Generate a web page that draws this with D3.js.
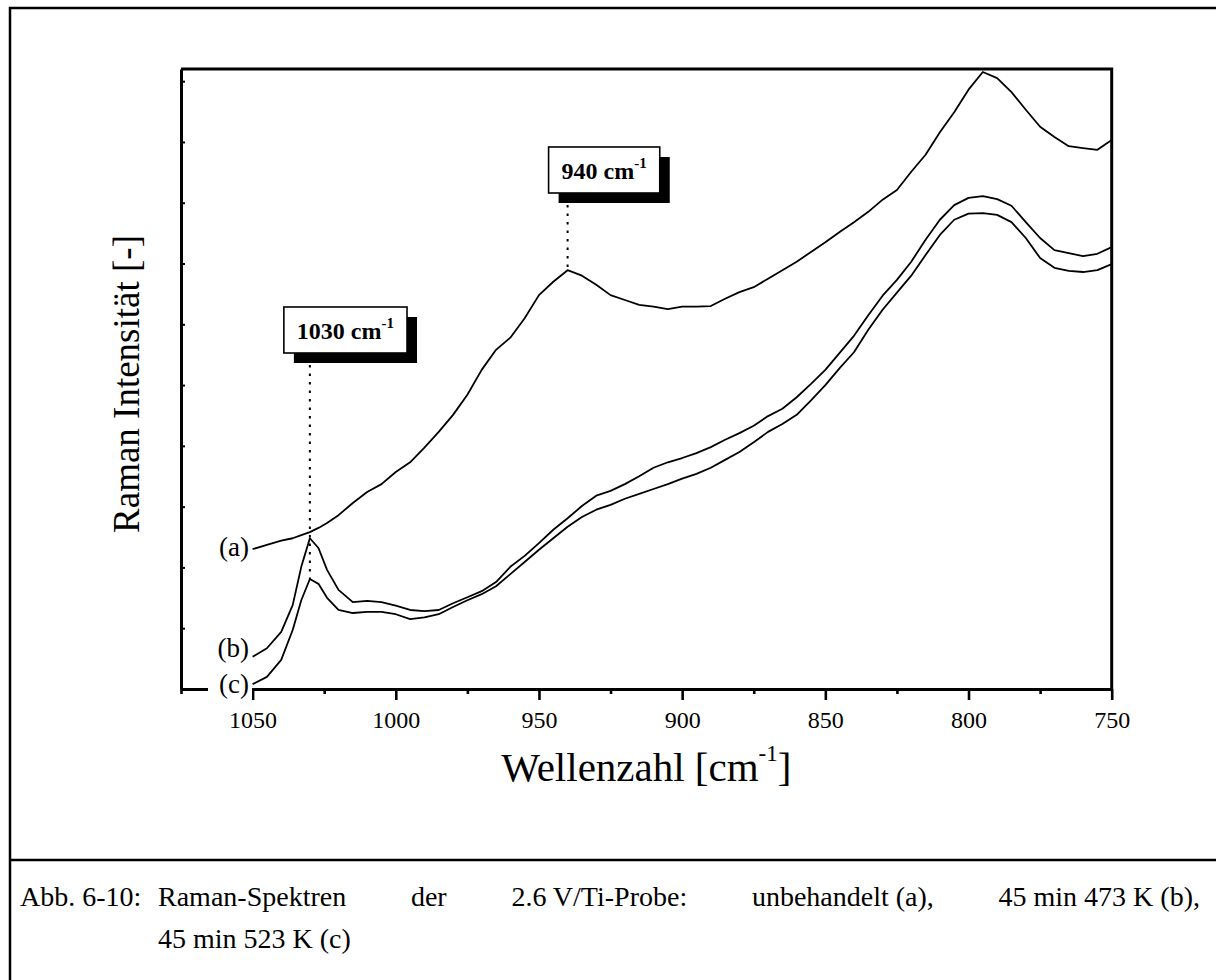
<!DOCTYPE html>
<html>
<head>
<meta charset="utf-8">
<script src="https://cdn.jsdelivr.net/npm/d3@7"></script>
<style>
  html, body { margin: 0; padding: 0; background: #fff; }
  svg { display: block; }
  text { font-family: "Liberation Serif", "Times New Roman", serif; fill: #000; }
</style>
</head>
<body>
<svg id="fig" width="1216" height="980"></svg>
<script>
// Raman shift grid (cm^-1), shared by all three spectra
const wavenumbers = [1050, 1045, 1040, 1036, 1033, 1030, 1027, 1024, 1020, 1015, 1010, 1005,
  1000, 995, 990, 985, 980, 975, 970, 965, 960, 955, 950, 945, 940, 935, 930, 925, 920, 915,
  910, 905, 900, 895, 890, 885, 880, 875, 870, 865, 860, 855, 850, 845, 840, 835, 830, 825,
  820, 815, 810, 805, 800, 795, 790, 785, 780, 775, 770, 765, 760, 755, 750];

// (a) untreated
const seriesA = [2.30, 2.37, 2.44, 2.48, 2.53, 2.58, 2.65, 2.73, 2.86, 3.06, 3.24, 3.37,
  3.57, 3.73, 3.97, 4.23, 4.51, 4.84, 5.25, 5.58, 5.78, 6.10, 6.48, 6.70, 6.89, 6.80, 6.65, 6.48, 6.40, 6.32,
  6.29, 6.25, 6.29, 6.29, 6.30, 6.42, 6.53, 6.61, 6.75, 6.89, 7.03, 7.19, 7.35, 7.52, 7.68, 7.85, 8.05, 8.21,
  8.51, 8.79, 9.16, 9.49, 9.86, 10.15, 10.05, 9.82, 9.53, 9.25, 9.08, 8.93, 8.90, 8.87, 9.03];

// (b) 45 min at 473 K
const seriesB = [0.53, 0.67, 0.94, 1.38, 2.01, 2.48, 2.32, 1.96, 1.63, 1.43, 1.45, 1.43,
  1.37, 1.30, 1.28, 1.30, 1.41, 1.51, 1.61, 1.76, 2.01, 2.19, 2.40, 2.62, 2.81, 3.01, 3.18, 3.26, 3.37, 3.50,
  3.64, 3.73, 3.80, 3.88, 3.98, 4.10, 4.21, 4.33, 4.49, 4.61, 4.80, 5.02, 5.25, 5.53, 5.81, 6.15, 6.47, 6.73,
  7.03, 7.39, 7.72, 7.96, 8.08, 8.11, 8.06, 7.95, 7.68, 7.42, 7.22, 7.17, 7.12, 7.16, 7.27];

// (c) 45 min at 523 K
const seriesC = [0.08, 0.20, 0.48, 0.97, 1.46, 1.81, 1.73, 1.50, 1.30, 1.25, 1.27, 1.27,
  1.23, 1.15, 1.18, 1.23, 1.35, 1.46, 1.56, 1.69, 1.89, 2.09, 2.29, 2.48, 2.67, 2.83, 2.95, 3.03, 3.13, 3.21,
  3.29, 3.37, 3.46, 3.54, 3.64, 3.77, 3.90, 4.06, 4.23, 4.36, 4.51, 4.75, 5.00, 5.28, 5.54, 5.91, 6.24, 6.52,
  6.80, 7.14, 7.47, 7.72, 7.82, 7.83, 7.80, 7.68, 7.42, 7.09, 6.93, 6.88, 6.86, 6.89, 6.99];

const seriesLabels = ["(a)", "(b)", "(c)"];

const xMajorTicks = [1050, 1000, 950, 900, 850, 800, 750];
const xMinorTicks = [1075, 1025, 975, 925, 875, 825, 775];
const yTicks = [1, 2, 3, 4, 5, 6, 7, 8, 9, 10];

// marked bands: position, which spectrum the guide line runs down to
const bandPositions = [1030, 940];
const bandSeries = [2, 0];

const xTitle = "Wellenzahl [cm";
const yTitle = "Raman Intensität [-]";
const captionLabel = "Abb. 6-10:";
const captionLine1 = ["Raman-Spektren", "der", "2.6 V/Ti-Probe:", "unbehandelt (a),", "45 min 473 K (b),"];
const captionLine2 = "45 min 523 K (c)";

// ---------------------------------------------------------------
const svg = d3.select("#fig");
const W = 1216, H = 980;
const plot = { left: 181, right: 1111.7, top: 69, bottom: 689 };

const x = d3.scaleLinear().domain([1075, 750]).range([plot.left, plot.right]);
const y = d3.scaleLinear().domain([0, 10.2]).range([plot.bottom, plot.top]);

// page frame and caption divider
svg.append("path")
  .attr("d", `M10,${H + 10}V8H${W + 10}`)
  .attr("fill", "none").attr("stroke", "#000").attr("stroke-width", 2.5);
svg.append("line")
  .attr("x1", 10).attr("x2", W + 10).attr("y1", 860).attr("y2", 860)
  .attr("stroke", "#000").attr("stroke-width", 2.5);

// top and right frame of the plot
svg.append("path")
  .attr("d", `M${plot.left},${plot.top}H${plot.right}V${plot.bottom}`)
  .attr("fill", "none").attr("stroke", "#000").attr("stroke-width", 3);

// spectra
const all = [seriesA, seriesB, seriesC];
const line = d3.line()
  .x((d, i) => x(wavenumbers[i]))
  .y(d => y(d));

svg.append("g").selectAll("path")
  .data(all).join("path")
  .attr("d", line)
  .attr("fill", "none")
  .attr("stroke", "#000")
  .attr("stroke-width", 1.8)
  .attr("stroke-linejoin", "round");

// bottom axis: labelled major ticks and short minor ticks
const gx = svg.append("g").attr("transform", `translate(0,${plot.bottom})`);
gx.call(d3.axisBottom(x).tickValues(xMajorTicks).tickSize(11).tickSizeOuter(0)
  .tickPadding(11).tickFormat(d3.format("d")));
const gxm = svg.append("g").attr("transform", `translate(0,${plot.bottom})`);
gxm.call(d3.axisBottom(x).tickValues(xMinorTicks).tickSize(5).tickSizeOuter(0).tickFormat(""));
gxm.select(".domain").remove();
[gx, gxm].forEach(g => {
  g.selectAll(".domain").attr("stroke-width", 3);
  g.selectAll(".tick line").attr("stroke-width", 2.6);
});
gx.selectAll(".tick text")
  .style("font-family", '"Liberation Serif", "Times New Roman", serif')
  .style("font-size", "24px")
  .attr("fill", "#000");

// left axis: unlabelled inward ticks
const gy = svg.append("g").attr("transform", `translate(${plot.left},0)`);
gy.call(d3.axisLeft(y).tickValues(yTicks).tickSize(-4).tickSizeOuter(0).tickFormat(""));
gy.select(".domain").attr("stroke-width", 3);
gy.selectAll(".tick line").attr("stroke-width", 2);

// series labels at the start of each spectrum; (b) sits a little above its line start
const labelShift = [0, -6, 2];
const labelG = svg.append("g");
all.forEach((s, i) => {
  const yy = y(s[0]) + labelShift[i];
  if (i === 2) {
    labelG.append("rect")
      .attr("x", 208).attr("y", yy - 15).attr("width", 44).attr("height", 28)
      .attr("fill", "#fff");
  }
  labelG.append("text")
    .attr("x", 249).attr("y", yy).attr("dy", "0.24em")
    .attr("text-anchor", "end")
    .style("font-size", "27px")
    .text(seriesLabels[i]);
});

// band markers: shadowed label box with a dotted guide down to the spectrum
const boxLayout = [
  { dx: -26, top: 307 },
  { dx: -19, top: 147 }
];
bandPositions.forEach((wn, k) => {
  const px = x(wn);
  const idx = wavenumbers.indexOf(wn);
  const pyEnd = y(all[bandSeries[k]][idx]);
  const g = svg.append("g");
  const t = g.append("text")
    .style("font-size", "24px").style("font-weight", "bold");
  t.append("tspan").text(wn + " cm");
  t.append("tspan").attr("dy", -11).style("font-size", "15px").text("-1");
  const tw = t.node().getComputedTextLength();
  const pad = 13;
  const bw = tw + pad * 2, bh = 46;
  const bx = px + boxLayout[k].dx, by = boxLayout[k].top;
  g.insert("rect", "text")
    .attr("x", bx + 10).attr("y", by + 10).attr("width", bw).attr("height", bh)
    .attr("fill", "#000");
  g.insert("rect", "text")
    .attr("x", bx).attr("y", by).attr("width", bw).attr("height", bh)
    .attr("fill", "#fff").attr("stroke", "#000").attr("stroke-width", 1.6);
  t.attr("x", bx + pad).attr("y", by + bh / 2 + 9);
  g.append("line")
    .attr("x1", px).attr("x2", px)
    .attr("y1", by + bh + 12).attr("y2", pyEnd)
    .attr("stroke", "#000").attr("stroke-width", 2)
    .attr("stroke-dasharray", "2.5,6");
});

// axis titles
const xt = svg.append("text")
  .attr("x", (plot.left + plot.right) / 2).attr("y", 781)
  .attr("text-anchor", "middle")
  .style("font-size", "41px");
xt.append("tspan").text(xTitle);
xt.append("tspan").attr("dy", -20).style("font-size", "23px").text("-1");
xt.append("tspan").attr("dy", 20).text("]");

svg.append("text")
  .attr("transform", `translate(139,384) rotate(-90)`)
  .attr("text-anchor", "middle")
  .style("font-size", "37px")
  .text(yTitle);

// caption, first line justified between the hanging indent and the right margin
const capSize = "28px";
const indent = 158, rightMargin = 1200;
svg.append("text").attr("x", 20).attr("y", 906).style("font-size", capSize).text(captionLabel);
const words = captionLine1.map(w =>
  svg.append("text").attr("y", 906).style("font-size", capSize).text(w));
const widths = words.map(w => w.node().getComputedTextLength());
const gap = (rightMargin - indent - d3.sum(widths)) / (words.length - 1);
let cx = indent;
words.forEach((w, i) => { w.attr("x", cx); cx += widths[i] + gap; });
svg.append("text").attr("x", indent).attr("y", 948).style("font-size", capSize).text(captionLine2);
</script>
</body>
</html>
